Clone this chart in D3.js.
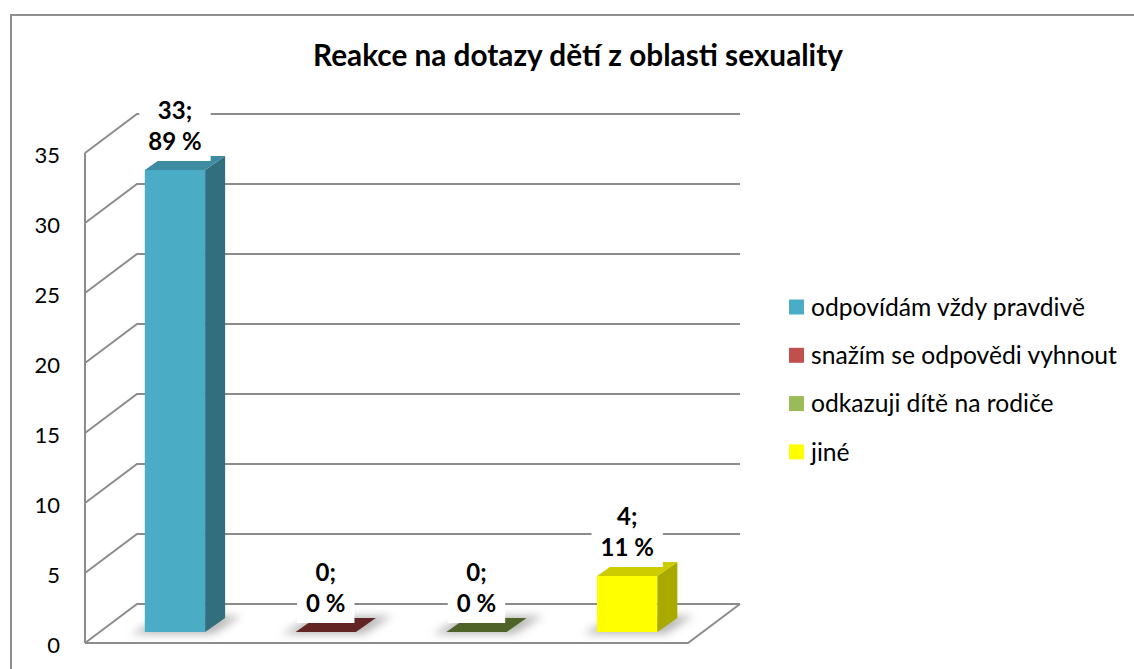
<!DOCTYPE html>
<html>
<head>
<meta charset="utf-8">
<script src="https://cdn.jsdelivr.net/npm/d3@7"></script>
<style>
  body { margin: 0; background: #fff; }
  text { font-family: Lato, "Open Sans", sans-serif; fill: #000; }
</style>
</head>
<body>
<div id="chart"></div>
<script>
// data
var categories = ["odpovídám vždy pravdivě", "snažím se odpovědi vyhnout", "odkazuji dítě na rodiče", "jiné"];
var counts = [33, 0, 0, 4];
var percents = ["89 %", "0 %", "0 %", "11 %"];
var yTicks = [0, 5, 10, 15, 20, 25, 30, 35];
var legendColors = ["#4bacc6", "#c0504d", "#9bbb59", "#ffff00"];
var frontColors = ["#4bacc6", "#c0504d", "#9bbb59", "#ffff00"];
var topColors = ["#3d8ca1", "#632523", "#4f6228", "#cccc00"];
var sideColors = ["#316f7f", "#4a1c1a", "#3b4a1e", "#a9a900"];
var TITLE = "Reakce na dotazy dětí z oblasti sexuality";

var W = 1134, H = 669;
var WALL_DX = 52, WALL_DY = -39;     // depth of the floor / wall
var BAR_DX = 14.6, BAR_DY = -11;     // where the bars stand in depth
var SIDE_DX = 20, SIDE_DY = -14;     // bar thickness

var svg = d3.select("#chart").append("svg")
  .attr("width", W).attr("height", H);

svg.append("rect").attr("width", W).attr("height", H).attr("fill", "#fff");

// scale a text's font so it spans the given width
function fitWidth(sel, target) {
  var fs = parseFloat(sel.style("font-size"));
  var w = sel.node().getComputedTextLength();
  return fs * target / w;
}

// chart area frame (only top/left visible)
svg.append("path")
  .attr("d", "M 11," + H + " V 15 H " + W)
  .attr("fill", "none").attr("stroke", "#8e8e8e").attr("stroke-width", 2);

var defs = svg.append("defs");
defs.append("filter").attr("id", "blur")
  .attr("x", "-50%").attr("y", "-50%").attr("width", "200%").attr("height", "200%")
  .append("feGaussianBlur").attr("stdDeviation", 4);

// scales (front plane)
var x = d3.scaleBand().domain(categories).range([85, 688]).paddingInner(0.6).paddingOuter(0.3);
var y = d3.scaleLinear().domain([0, 35]).range([643, 153]);

// gridlines: front edge -> back wall -> across
var grid = svg.append("g");
yTicks.forEach(function(t) {
  var yf = y(t), yb = y(t) + WALL_DY;
  grid.append("path")
    .attr("d", "M " + x.range()[0] + "," + yf + " L " + (x.range()[0] + WALL_DX) + "," + yb +
               " L " + (x.range()[1] + WALL_DX) + "," + yb)
    .attr("fill", "none").attr("stroke", "#8c8c8c").attr("stroke-width", 2);
});
// front vertical axis
svg.append("line")
  .attr("x1", 85).attr("x2", 85).attr("y1", y(0)).attr("y2", y(35))
  .attr("stroke", "#8c8c8c").attr("stroke-width", 2);
// front floor edge
svg.append("path")
  .attr("d", "M 85," + y(0) + " L 688," + y(0) + " L " + (688 + WALL_DX) + "," + (y(0) + WALL_DY))
  .attr("fill", "none").attr("stroke", "#8c8c8c").attr("stroke-width", 2);

// tick labels
svg.append("g").selectAll("text").data(yTicks).join("text")
  .attr("x", 60).attr("y", function(d) { return y(d) + 2; })
  .attr("dy", "0.35em").attr("text-anchor", "end")
  .style("font-size", "22px")
  .text(function(d) { return d; });

// bars
var bars = categories.map(function(c, i) {
  var x0 = x(c) + BAR_DX, w = x.bandwidth();
  var yb = y(0) + BAR_DY, yt = y(counts[i]) + BAR_DY;
  return {i: i, x0: x0, w: w, yb: yb, yt: yt};
});

function pts(a) { return a.map(function(p) { return p.join(","); }).join(" "); }

// shadows on the floor
svg.append("g").selectAll("polygon").data(bars).join("polygon")
  .attr("points", function(b) {
    return pts([[b.x0 - 14, b.yb + 2], [b.x0 + b.w + 8, b.yb + 2],
                [b.x0 + b.w + SIDE_DX + 16, b.yb + SIDE_DY - 2], [b.x0 + SIDE_DX, b.yb + SIDE_DY - 2]]);
  })
  .attr("fill", "#9a9a9a").attr("opacity", 0.7).attr("filter", "url(#blur)");

var gb = svg.append("g");
bars.forEach(function(b) {
  var i = b.i;
  if (b.yb - b.yt > 0.5) {
    gb.append("rect").attr("x", b.x0).attr("y", b.yt).attr("width", b.w).attr("height", b.yb - b.yt)
      .attr("fill", frontColors[i]);
    gb.append("polygon")
      .attr("points", pts([[b.x0 + b.w, b.yb], [b.x0 + b.w + SIDE_DX, b.yb + SIDE_DY],
                           [b.x0 + b.w + SIDE_DX, b.yt + SIDE_DY], [b.x0 + b.w, b.yt]]))
      .attr("fill", sideColors[i]);
  }
  gb.append("polygon")
    .attr("points", pts([[b.x0, b.yt], [b.x0 + b.w, b.yt],
                         [b.x0 + b.w + SIDE_DX, b.yt + SIDE_DY], [b.x0 + SIDE_DX, b.yt + SIDE_DY]]))
    .attr("fill", topColors[i]);
});

// data labels with white boxes
var gl = svg.append("g");
bars.forEach(function(b) {
  var cx = b.x0 + b.w / 2;
  var l2 = b.yt + SIDE_DY - 14, l1 = l2 - 31;
  var box = gl.append("rect").attr("fill", "#fff");
  var t1 = gl.append("text").attr("x", cx).attr("y", l1).attr("dy", "0.35em")
    .attr("text-anchor", "middle").style("font-size", "24px").style("font-weight", "bold")
    .text(counts[b.i] + ";");
  var t2 = gl.append("text").attr("x", cx).attr("y", l2).attr("dy", "0.35em")
    .attr("text-anchor", "middle").style("font-size", "24px").style("font-weight", "bold")
    .text(percents[b.i]);
  var bw = Math.max(t1.node().getComputedTextLength(), t2.node().getComputedTextLength()) + 18;
  box.attr("x", cx - bw / 2).attr("y", l1 - 14).attr("width", bw).attr("height", (l2 + 19) - (l1 - 14));
});

// title
var title = svg.append("text")
  .attr("x", 578).attr("y", 66).attr("text-anchor", "middle")
  .style("font-size", "24px").style("font-weight", "bold")
  .text(TITLE);
title.style("font-size", fitWidth(title, 530) + "px");

// legend
var lg = svg.append("g").selectAll("g").data(categories).join("g")
  .attr("transform", function(d, i) { return "translate(789," + (307 + i * 48.3) + ")"; });
lg.append("rect").attr("x", 0).attr("y", -7.5).attr("width", 15).attr("height", 15)
  .attr("fill", function(d, i) { return legendColors[i]; });
var lt = lg.append("text").attr("x", 22).attr("dy", "0.35em")
  .style("font-size", "20px")
  .text(function(d) { return d; });
var lfs = fitWidth(d3.select(lt.nodes()[0]), 274);
lt.style("font-size", lfs + "px");
</script>
</body>
</html>
